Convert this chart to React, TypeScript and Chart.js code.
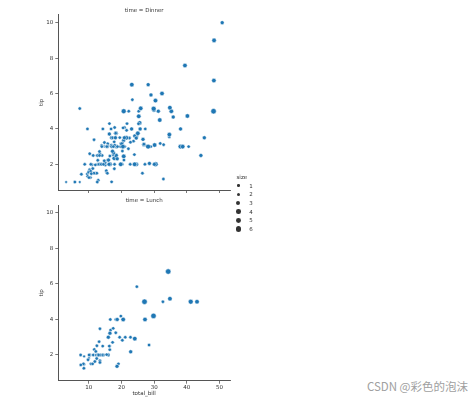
import React, { useEffect, useRef } from 'react';
import { Chart, registerables } from 'chart.js';

Chart.register(...registerables);

// ---- data (tips dataset, split by time) ----
const dinnerBill = [16.99,10.34,21.01,23.68,24.59,25.29,8.77,26.88,15.04,14.78,10.27,35.26,15.42,18.43,14.83,21.58,10.33,16.29,16.97,
  20.65,17.92,20.29,15.77,39.42,19.82,17.81,13.37,12.69,21.7,19.65,9.55,18.35,15.06,20.69,17.78,24.06,16.31,16.93,18.69,31.27,16.04,
  17.46,13.94,9.68,30.4,18.29,22.23,32.4,28.55,18.04,12.54,10.29,34.81,9.94,25.56,19.49,
  38.01,26.41,11.24,48.27,20.29,13.81,11.02,18.29,17.59,20.08,16.45,3.07,20.23,15.01,12.02,17.07,26.86,25.28,14.73,10.51,17.92,
  28.97,22.49,5.75,16.32,22.75,40.17,27.28,12.03,21.01,12.46,11.35,15.38,
  44.3,22.42,20.92,15.36,20.49,25.21,18.24,14.31,14.0,7.25,
  38.07,23.95,25.71,17.31,29.93,
  14.07,13.13,17.26,24.55,19.77,29.85,48.17,25.0,13.39,16.49,21.5,12.66,16.21,13.81,17.51,24.52,20.76,31.71,
  10.59,10.63,50.81,15.81,
  7.25,31.85,16.82,32.9,17.89,14.48,9.6,34.63,34.65,23.33,45.35,23.17,40.55,20.69,20.9,30.46,18.15,23.1,15.69,
  26.59,38.73,24.27,12.76,30.06,25.89,48.33,13.27,28.17,12.9,28.15,11.59,7.74,30.14,
  20.45,13.28,22.12,24.01,15.69,11.61,10.77,15.53,10.07,12.6,32.83,35.83,29.03,27.18,22.67,17.82,
  18.78];
const dinnerTip = [1.01,1.66,3.5,3.31,3.61,4.71,2.0,3.12,1.96,3.23,1.71,5.0,1.57,3.0,3.02,3.92,1.67,3.71,3.5,
  3.35,4.08,2.75,2.23,7.58,3.18,2.34,2.0,2.0,4.3,3.0,1.45,2.5,3.0,2.45,3.27,3.6,2.0,3.07,2.31,5.0,2.24,
  2.54,3.06,1.32,5.6,3.0,5.0,6.0,2.05,3.0,2.5,2.6,5.2,1.56,4.34,3.51,
  3.0,1.5,1.76,6.73,3.21,2.0,1.98,3.76,2.64,3.15,2.47,1.0,2.01,2.09,1.97,3.0,3.14,5.0,2.2,1.25,3.08,
  3.0,3.5,1.0,4.3,3.25,4.73,4.0,1.5,3.0,1.5,2.5,3.0,
  2.5,3.48,4.08,1.64,4.06,4.29,3.76,4.0,3.0,1.0,
  4.0,2.55,4.0,3.5,5.07,
  2.5,2.0,2.74,2.0,2.0,5.14,5.0,3.75,2.61,2.0,3.5,2.5,2.0,2.0,3.0,3.48,2.24,4.5,
  1.61,2.0,10.0,3.16,
  5.15,3.18,4.0,3.11,2.0,2.0,4.0,3.55,3.68,5.65,3.5,6.5,3.0,5.0,3.5,2.0,3.5,4.0,1.5,
  3.41,3.0,2.03,2.23,2.0,5.16,9.0,2.5,6.5,1.1,3.0,1.5,1.44,3.09,
  3.0,2.72,2.88,2.0,3.0,3.39,1.47,3.0,1.25,1.0,1.17,4.67,5.92,2.0,2.0,1.75,
  3.0];
const dinnerSize = [2,3,3,2,4,4,2,4,2,2,2,4,2,4,2,2,3,3,3,
  3,2,2,2,4,2,4,2,2,2,2,2,4,2,4,2,3,3,3,3,3,3,
  2,2,2,4,2,2,4,3,2,2,2,4,2,4,2,
  4,2,2,4,2,2,2,4,3,3,2,1,2,2,2,3,2,2,2,2,2,
  2,2,2,2,2,4,2,2,2,2,2,2,
  3,2,2,2,2,2,2,2,2,1,
  3,2,3,2,4,
  2,2,3,4,4,5,6,4,2,4,4,2,3,2,2,3,2,4,
  2,2,3,2,
  2,2,2,2,2,2,2,2,4,2,3,4,2,5,3,5,3,3,2,
  3,4,2,2,3,4,4,2,3,2,5,2,2,4,
  4,2,2,4,3,2,2,2,2,2,2,3,3,2,2,2,
  2];

const lunchBill = [27.2,22.76,17.29,19.44,16.66,10.07,32.68,15.98,34.83,13.03,18.28,24.71,21.16,
  10.65,12.43,24.08,11.69,13.42,14.26,15.95,12.48,29.8,8.52,14.52,11.38,22.82,19.08,20.27,11.17,12.26,18.26,8.51,10.33,14.15,16.0,13.16,17.47,34.3,41.19,27.05,16.43,8.35,18.64,11.87,9.78,7.51,
  19.81,28.44,15.48,16.58,7.56,10.34,43.11,13.0,13.51,18.71,12.74,13.0,16.4,20.53,16.47,
  12.16,13.42,8.58,15.98,13.42,16.27,10.09];
const lunchTip = [4.0,3.0,2.71,3.0,3.4,1.83,5.0,2.03,5.17,2.0,4.0,5.85,3.0,
  1.5,1.8,2.92,2.31,1.68,2.5,2.0,2.52,4.2,1.48,2.0,2.0,2.18,1.5,2.83,1.5,2.0,3.25,1.25,2.0,2.0,2.0,2.75,3.5,6.7,5.0,5.0,2.3,1.5,1.36,1.63,1.73,2.0,
  4.19,2.56,2.02,4.0,1.44,2.0,5.0,2.0,2.0,4.0,2.01,2.0,2.5,4.0,3.23,
  2.2,3.48,1.92,3.0,1.58,2.5,2.0];
const lunchSize = [4,2,2,2,2,1,2,2,4,2,2,2,2,
  2,2,4,2,2,2,2,2,6,2,2,2,3,2,2,2,2,2,2,2,2,2,2,2,6,5,6,2,2,3,2,2,2,
  2,2,2,2,2,2,4,2,2,3,2,2,2,4,3,
  2,2,1,3,2,2,2];

const xTicks = [10, 20, 30, 40, 50];
const yTicks = [2, 4, 6, 8, 10];
const legendSizes = [1, 2, 3, 4, 5, 6];
const xRange = [0.68, 53.2];
const yRange = [0.55, 10.45];

// ---- styles ----
const FONT_FAMILY = "'DejaVu Sans', sans-serif";
const FS = 5.5;
const BLUE = '#1f77b4';
const AXIS = '#555555';
const TEXT = '#333333';

const sizeArea = (s: number) => 18 + (s - 1) * 10.8;
const radiusFor = (s: number) => 2.7 * Math.sqrt(sizeArea(s) / 72);

type PanelProps = {
  title: string;
  bill: number[];
  tip: number[];
  size: number[];
  showXLabels: boolean;
  top: number;
  height: number;
  padTop: number;
  xAxisH: number;
};

function Panel({ title, bill, tip, size, showXLabels, top, height, padTop, xAxisH }: PanelProps) {
  const ref = useRef<HTMLCanvasElement>(null);
  useEffect(() => {
    const data = bill.map((b, i) => ({ x: b, y: tip[i], s: size[i] }));
    const titlePlugin = {
      id: 'panelTitle',
      afterDraw(chart: any) {
        const { ctx, chartArea } = chart;
        ctx.save();
        ctx.font = `${FS}px ${FONT_FAMILY}`;
        ctx.fillStyle = TEXT;
        ctx.textAlign = 'center';
        ctx.textBaseline = 'middle';
        ctx.fillText(title, (chartArea.left + chartArea.right) / 2, chartArea.top - 4.5);
        ctx.restore();
      },
    };
    const font = { family: FONT_FAMILY, size: FS };
    const chart = new Chart(ref.current!, {
      type: 'scatter',
      data: {
        datasets: [
          {
            data,
            backgroundColor: BLUE,
            borderColor: '#ffffff',
            borderWidth: 0.5,
            pointRadius: (c: any) => radiusFor(c.raw.s),
            pointHoverRadius: (c: any) => radiusFor(c.raw.s),
          } as any,
        ],
      },
      options: {
        animation: false,
        responsive: false,
        events: [],
        layout: { padding: { left: 38, right: 10, top: padTop, bottom: 0 } },
        plugins: { legend: { display: false }, tooltip: { enabled: false } },
        scales: {
          x: {
            type: 'linear',
            min: xRange[0],
            max: xRange[1],
            afterBuildTicks: (s: any) => {
              s.ticks = xTicks.map((v) => ({ value: v }));
            },
            afterFit: (s: any) => {
              s.height = xAxisH;
            },
            grid: { drawOnChartArea: false, drawTicks: true, tickLength: 3, color: AXIS, lineWidth: 0.8 },
            border: { display: true, color: AXIS, width: 1 },
            ticks: { display: showXLabels, padding: 1, font, color: TEXT, maxRotation: 0 },
            title: { display: showXLabels, text: 'total_bill', padding: 0, font, color: TEXT },
          },
          y: {
            type: 'linear',
            min: yRange[0],
            max: yRange[1],
            afterBuildTicks: (s: any) => {
              s.ticks = yTicks.map((v) => ({ value: v }));
            },
            afterFit: (s: any) => {
              s.width = 20.3;
            },
            grid: { drawOnChartArea: false, drawTicks: true, tickLength: 3, color: AXIS, lineWidth: 0.8 },
            border: { display: true, color: AXIS, width: 1 },
            ticks: { padding: 2, font, color: TEXT },
            title: { display: true, text: 'tip', padding: 0, font, color: TEXT },
          },
        },
      } as any,
      plugins: [titlePlugin],
    });
    return () => chart.destroy();
  }, []);
  return (
    <canvas
      ref={ref}
      width={240}
      height={height}
      style={{ position: 'absolute', left: 0, top, width: 240, height, display: 'block' }}
    />
  );
}

function Legend() {
  const rowY = (i: number) => 185.7 + i * 8.66;
  return (
    <div style={{ position: 'absolute', left: 0, top: 0 }}>
      <div
        style={{
          position: 'absolute', left: 236.5, top: 177.3 - 5, height: 10, lineHeight: '10px',
          fontFamily: FONT_FAMILY, fontSize: FS, color: TEXT, whiteSpace: 'nowrap',
        }}
      >
        size
      </div>
      {legendSizes.map((s, i) => {
        const r = radiusFor(s);
        return (
          <React.Fragment key={s}>
            <div
              style={{
                position: 'absolute', left: 238.3 - r, top: rowY(i) - r, width: 2 * r, height: 2 * r,
                borderRadius: '50%', background: '#333333',
              }}
            />
            <div
              style={{
                position: 'absolute', left: 249.3, top: rowY(i) - 5, height: 10, lineHeight: '10px',
                fontFamily: FONT_FAMILY, fontSize: FS, color: TEXT, whiteSpace: 'nowrap',
              }}
            >
              {s}
            </div>
          </React.Fragment>
        );
      })}
    </div>
  );
}

export default function App() {
  return (
    <div style={{ position: 'absolute', left: 0, top: 0, width: 474, height: 397, background: '#ffffff', overflow: 'hidden' }}>
      <Panel title="time = Dinner" bill={dinnerBill} tip={dinnerTip} size={dinnerSize} showXLabels={false}
        top={0} height={200} padTop={14.7} xAxisH={10} />
      <Panel title="time = Lunch" bill={lunchBill} tip={lunchTip} size={lunchSize} showXLabels={true}
        top={195} height={202} padTop={10} xAxisH={16.3} />
      <Legend />
      <div
        style={{
          position: 'absolute', right: 6, top: 378, height: 16, lineHeight: '16px',
          fontFamily: "'Noto Sans CJK SC', 'Noto Sans', sans-serif", fontSize: 11.5, color: '#a0a0a0', whiteSpace: 'nowrap',
        }}
      >
        CSDN @彩色的泡沫
      </div>
    </div>
  );
}
